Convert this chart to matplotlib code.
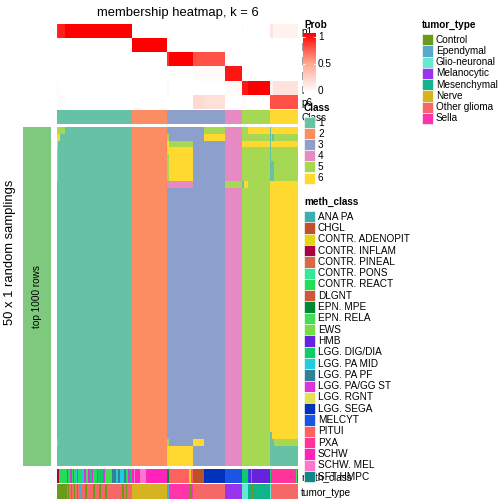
import numpy as np
import matplotlib.pyplot as plt
from matplotlib.colors import ListedColormap, LinearSegmentedColormap
from matplotlib.patches import Rectangle

plt.rcParams['font.family'] = ['Liberation Sans', 'DejaVu Sans']

W = H = 504  # figure size in pixels (dpi 72)

# ---- data ----
class_labels = ["1", "2", "3", "4", "5", "6"]
class_colors = ["#66c2a5", "#fc8d62", "#8da0cb", "#e78ac3", "#a6d854", "#ffd92f"]
class_sizes = [75, 35, 58, 17, 28, 28]   # samples per consensus class

# membership probability per row, as (n samples, value) runs
prob_rows = ["p1", "p2", "p3", "p4", "p5", "p6"]
p1 = [(1, 0.85), (7, 0.9), (67, 1.0), (93, 0), (17, 0), (1, 0.03), (27, 0), (3, 0.15), (25, 0.07)]
p2 = [(75, 0), (35, 1.0), (131, 0)]
p3 = [(110, 0), (2, 0.85), (24, 1.0), (32, 0.75), (73, 0)]
p4 = [(136, 0), (32, 0.02), (17, 0.93), (2, 0.02), (54, 0)]
p5 = [(1, 0.05), (109, 0), (2, 0.05), (56, 0), (17, 0.02), (6, 0.92), (22, 1.0), (3, 0.06), (25, 0.16)]
p6 = [(8, 0.02), (102, 0), (26, 0), (11, 0.2), (21, 0.17), (17, 0), (4, 0.03), (24, 0), (28, 0.75)]

# 50 random samplings: deviations from consensus (row0, row1, col0, col1, class)
n_samplings = 50
deviations = [
    (0, 1, 0, 8, 5), (1, 2, 0, 3, 6), (2, 3, 0, 1, 6), (3, 8, 0, 1, 5), (46, 47, 0, 1, 5),
    (0, 1, 147, 168, 5), (1, 2, 110, 112, 5), (1, 2, 147, 168, 6),
    (2, 3, 110, 112, 6), (2, 3, 112, 136, 5), (3, 4, 110, 112, 6), (4, 8, 110, 112, 5),
    (3, 8, 112, 136, 6), (8, 9, 110, 136, 4), (46, 47, 110, 112, 5), (46, 47, 136, 147, 6),
    (47, 50, 110, 136, 6),
    (8, 9, 168, 185, 5),
    (0, 1, 191, 213, 6), (2, 3, 185, 213, 6), (8, 9, 185, 187, 1), (8, 9, 187, 191, 6),
    (0, 3, 213, 214, 1), (1, 2, 214, 215, 5), (1, 2, 215, 217, 1), (1, 2, 217, 241, 5),
    (3, 5, 213, 214, 1), (3, 5, 214, 241, 5), (5, 8, 213, 217, 1), (5, 8, 217, 241, 5),
    (45, 46, 213, 215, 1), (46, 47, 213, 217, 1), (46, 47, 217, 241, 5), (47, 50, 213, 241, 1),
]

meth_names = ["ANA PA", "CHGL", "CONTR. ADENOPIT", "CONTR. INFLAM", "CONTR. PINEAL",
              "CONTR. PONS", "CONTR. REACT", "DLGNT", "EPN. MPE", "EPN. RELA", "EWS", "HMB",
              "LGG. DIG/DIA", "LGG. PA MID", "LGG. PA PF", "LGG. PA/GG ST", "LGG. RGNT",
              "LGG. SEGA", "MELCYT", "PITUI", "PXA", "SCHW", "SCHW. MEL", "SFT HMPC"]
meth_colors = ["#3aafb0", "#c0502a", "#e4d412", "#aa0044", "#d86848", "#33e899", "#22dd55",
               "#cc5a38", "#008833", "#44dd55", "#77dd44", "#6622dd", "#11cc66", "#22ccdd",
               "#338099", "#dd33dd", "#e8e050", "#0033bb", "#1a55e6", "#ff6060", "#ff3399",
               "#ff22bb", "#ff77cc", "#118888"]
meth_runs = [
    ("CONTR. INFLAM", 2), ("CONTR. REACT", 8), ("LGG. PA PF", 1), ("CONTR. REACT", 2),
    ("LGG. PA/GG ST", 2), ("CONTR. REACT", 1), ("LGG. PA/GG ST", 1), ("CONTR. REACT", 2),
    ("LGG. PA MID", 1), ("LGG. PA/GG ST", 1), ("CONTR. REACT", 4), ("LGG. PA MID", 1),
    ("CONTR. REACT", 1), ("LGG. PA/GG ST", 2), ("EPN. RELA", 2), ("LGG. PA/GG ST", 2),
    ("LGG. DIG/DIA", 2), ("LGG. PA/GG ST", 1), ("CONTR. REACT", 4), ("LGG. PA/GG ST", 1),
    ("LGG. DIG/DIA", 5), ("LGG. PA/GG ST", 2), ("EPN. RELA", 7), ("LGG. PA PF", 4),
    ("LGG. PA MID", 2), ("LGG. PA PF", 2), ("LGG. PA MID", 4), ("LGG. PA PF", 2),
    ("CONTR. REACT", 2), ("LGG. PA/GG ST", 2), ("LGG. DIG/DIA", 2),
    ("SCHW", 2), ("SCHW. MEL", 1), ("SCHW", 5), ("SCHW. MEL", 6), ("SCHW", 21),
    ("EPN. MPE", 2), ("PITUI", 20), ("CONTR. ADENOPIT", 2), ("PITUI", 2), ("CHGL", 11),
    ("LGG. SEGA", 21),
    ("MELCYT", 17),
    ("LGG. DIG/DIA", 6), ("MELCYT", 1), ("HMB", 2), ("CONTR. PINEAL", 1), ("HMB", 18),
    ("LGG. DIG/DIA", 1), ("PXA", 25), ("EPN. RELA", 1), ("SFT HMPC", 1),
]

tumor_names = ["Control", "Ependymal", "Glio-neuronal", "Melanocytic", "Mesenchymal",
               "Nerve", "Other glioma", "Sella"]
tumor_colors = ["#6b9a1a", "#55aacc", "#66e8d4", "#9933ee", "#11b388", "#d4b420",
                "#f46868", "#ff33aa"]
tumor_runs = [
    ("Control", 10), ("Other glioma", 1), ("Control", 1), ("Other glioma", 2), ("Control", 1),
    ("Other glioma", 2), ("Control", 1), ("Other glioma", 2), ("Control", 1),
    ("Other glioma", 2), ("Ependymal", 1), ("Other glioma", 4), ("Control", 2),
    ("Other glioma", 6), ("Control", 2), ("Other glioma", 4), ("Control", 2),
    ("Other glioma", 4), ("Control", 2), ("Other glioma", 15), ("Control", 2),
    ("Other glioma", 2), ("Control", 1), ("Other glioma", 5),
    ("Nerve", 35),
    ("Ependymal", 2), ("Sella", 20), ("Control", 2), ("Sella", 2), ("Other glioma", 32),
    ("Melanocytic", 17),
    ("Glio-neuronal", 6), ("Mesenchymal", 4), ("Control", 1), ("Mesenchymal", 17),
    ("Glio-neuronal", 1), ("Other glioma", 26), ("Ependymal", 1),
]

# ---- build matrices ----
def expand(runs):
    return np.concatenate([np.full(n, v, dtype=float) for n, v in runs])

prob = np.vstack([expand(r) for r in (p1, p2, p3, p4, p5, p6)])
consensus = np.repeat(np.arange(1, 7), class_sizes)
member = np.tile(consensus, (n_samplings, 1))
for r0, r1, c0, c1, k in deviations:
    member[r0:r1, c0:c1] = k
meth = np.concatenate([np.full(n, meth_names.index(m)) for m, n in meth_runs])
tumor = np.concatenate([np.full(n, tumor_names.index(t)) for t, n in tumor_runs])

prob_cmap = LinearSegmentedColormap.from_list("prob", [(0, "#ffffff"), (0.5, "#ffa48e"), (1, "#ff0000")])
class_cmap = ListedColormap(class_colors)

fig = plt.figure(figsize=(W / 72, H / 72), dpi=72)


def px_axes(x0, y0, x1, y1):
    return fig.add_axes([x0 / W, 1 - y1 / H, (x1 - x0) / W, (y1 - y0) / H])


def row_label(ax, text):
    ax.set_xticks([])
    ax.yaxis.tick_right()
    ax.set_yticks([0])
    ax.set_yticklabels([text], fontsize=10)
    ax.tick_params(length=0, pad=3)
    for s in ax.spines.values():
        s.set_visible(False)


# probability heatmap
ax = px_axes(57, 24, 298, 109)
ax.imshow(prob, cmap=prob_cmap, vmin=0, vmax=1, aspect="auto", interpolation="nearest")
ax.set_xticks([])
ax.yaxis.tick_right()
ax.set_yticks(range(6))
ax.set_yticklabels(prob_rows, fontsize=10)
ax.tick_params(length=0, pad=3)
for s in ax.spines.values():
    s.set_visible(False)
ax.set_title("membership heatmap, k = 6", fontsize=13, pad=8)

# class annotation
ax = px_axes(57, 110, 298, 124)
ax.imshow(consensus[None, :] - 1, cmap=class_cmap, vmin=-0.5, vmax=5.5, aspect="auto",
          interpolation="nearest")
row_label(ax, "Class")

# main heatmap
ax = px_axes(57, 127, 298, 466)
ax.imshow(member - 1, cmap=class_cmap, vmin=-0.5, vmax=5.5, aspect="auto", interpolation="nearest")
ax.axis("off")

# left block
ax = px_axes(23, 127, 51, 466)
ax.set_facecolor("#7fc97f")
ax.set_xticks([])
ax.set_yticks([])
for s in ax.spines.values():
    s.set_visible(False)
ax.text(0.5, 0.5, "top 1000 rows", rotation=90, ha="center", va="center", fontsize=10,
        transform=ax.transAxes)
fig.text(10.5 / W, 1 - 252 / H, "50 x 1 random samplings", rotation=90, ha="center",
         va="center", fontsize=13)

# meth_class / tumor_type annotations
ax = px_axes(57, 469, 298, 483)
ax.imshow(meth[None, :], cmap=ListedColormap(meth_colors), vmin=-0.5, vmax=len(meth_names) - 0.5,
          aspect="auto", interpolation="nearest")
row_label(ax, "meth_class")
ax = px_axes(57, 484, 298, 499)
ax.imshow(tumor[None, :], cmap=ListedColormap(tumor_colors), vmin=-0.5,
          vmax=len(tumor_names) - 0.5, aspect="auto", interpolation="nearest")
row_label(ax, "tumor_type")

# Prob colour bar
cax = px_axes(303, 33, 316, 92)
cax.imshow(np.linspace(1, 0, 200)[:, None], cmap=prob_cmap, vmin=0, vmax=1, aspect="auto")
cax.axis("off")

# overlay for legends, in pixel coordinates
ov = fig.add_axes([0, 0, 1, 1])
ov.set_xlim(0, W)
ov.set_ylim(H, 0)
ov.axis("off")

ov.text(304, 25, "Prob", fontsize=10, fontweight="bold", va="center")
for yy, lab in [(37, "1"), (64, "0.5"), (91, "0")]:
    ov.text(318, yy, lab, fontsize=10, va="center")
    ov.plot([303, 305], [yy, yy], color="white", lw=0.8)
    ov.plot([314, 316], [yy, yy], color="white", lw=0.8)


def legend(x, y, title, names, colors, step):
    ov.text(x, y, title, fontsize=10, fontweight="bold", va="center")
    for i, (n, c) in enumerate(zip(names, colors)):
        top = y + 9 + i * step
        ov.add_patch(Rectangle((x, top), 11, step, facecolor=c, edgecolor="white", lw=0.6))
        ov.text(x + 14, top + step / 2, n, fontsize=10, va="center")


legend(304, 108, "Class", class_labels, class_colors, 11.1)
legend(304, 202, "meth_class", meth_names, meth_colors, 11.3)
legend(422, 25, "tumor_type", tumor_names, tumor_colors, 11.25)

fig.savefig("out.png", dpi=72)
